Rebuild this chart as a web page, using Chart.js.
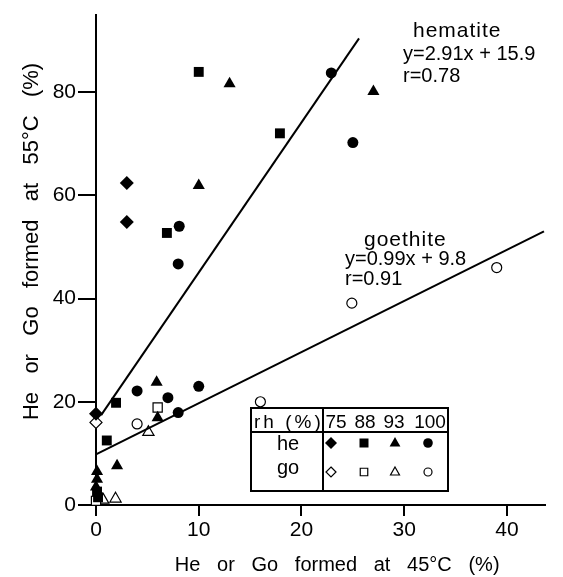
<!DOCTYPE html>
<html>
<head>
<meta charset="utf-8">
<script src="https://cdn.jsdelivr.net/npm/chart.js@4.4.1/dist/chart.umd.min.js"></script>
<style>
    html, body { margin: 0; padding: 0; background: #fff; }
</style>
</head>
<body>
<canvas id="myChart" width="563" height="577"></canvas>
<script>
// Points, [x, y] = [% at 45°C, % at 55°C]
// hematite (filled symbols)
const he75 = [[3, 62.4], [3, 54.8], [0, 17.7]];
const he88 = [[10, 83.9], [17.9, 72], [6.9, 52.7], [1.95, 19.8], [1.05, 12.5], [0.1, 2.6], [0.2, 1.5]];
const he93 = [[13, 81.6], [27, 80.1], [10, 61.9], [5.9, 23.8], [6, 16.9], [2.05, 7.6], [0.1, 6.5], [0.1, 5], [0, 3.5]];
const he100 = [[22.9, 83.7], [25, 70.2], [8.1, 54], [8, 46.7], [4, 22.1], [7, 20.8], [10, 23], [8, 17.9]];

// goethite (open symbols)
const go75 = [[0, 16]];
const go88 = [[6, 18.9], [0, 0.8]];
const go93 = [[5.1, 14.1], [0.7, 1], [1.9, 1.2]];
const go100 = [[39, 46], [24.9, 39.1], [16, 20], [4, 15.7]];

// regression lines, end points as drawn
const hematiteLine = [[0.5, 17.4], [25.6, 90.4]];
const goethiteLine = [[0, 9.8], [43.6, 53]];

// axes
const xTicks = [0, 10, 20, 30, 40];
const yTicks = [0, 20, 40, 60, 80];

// legend table
const rhLevels = ["75", "88", "93", "100"];
const rhStyles = ["rectRot", "rect", "triangle", "circle"];

const FONT = "'Liberation Sans', Arial, Helvetica, sans-serif";

const toXY = function (pairs) {
    return pairs.map(p => ({ x: p[0], y: p[1] }));
};

const pointSet = function (pairs, style, radius, filled) {
    return {
        type: 'scatter',
        data: toXY(pairs),
        pointStyle: style,
        pointRadius: radius,
        pointHoverRadius: radius,
        pointBackgroundColor: filled ? '#000' : '#fff',
        pointBorderColor: '#000',
        pointBorderWidth: filled ? 0 : 1.2,
        clip: false
    };
};

const lineSet = function (pairs) {
    return {
        type: 'line',
        data: toXY(pairs),
        borderColor: '#000',
        borderWidth: 2,
        pointRadius: 0,
        fill: false,
        clip: false
    };
};

/*
    Draw one legend symbol by hand
*/
const drawSymbol = function (ctx, style, x, y, r, filled) {
    ctx.beginPath();
    if (style === 'rectRot') {
        ctx.moveTo(x, y - r); ctx.lineTo(x + r, y); ctx.lineTo(x, y + r); ctx.lineTo(x - r, y);
        ctx.closePath();
    } else if (style === 'rect') {
        ctx.rect(x - r * 0.75, y - r * 0.75, r * 1.5, r * 1.5);
    } else if (style === 'triangle') {
        ctx.moveTo(x, y - r); ctx.lineTo(x + r * 0.9, y + r * 0.6); ctx.lineTo(x - r * 0.9, y + r * 0.6);
        ctx.closePath();
    } else {
        ctx.arc(x, y, r * 0.8, 0, Math.PI * 2);
    }
    if (filled) {
        ctx.fillStyle = '#000';
        ctx.fill();
    } else {
        ctx.fillStyle = '#fff';
        ctx.fill();
        ctx.lineWidth = 1.2;
        ctx.strokeStyle = '#000';
        ctx.stroke();
    }
};

/*
    Equations and the rh table
*/
const notesPlugin = {
    id: 'notes',
    afterDraw(chart) {
        const ctx = chart.ctx;
        const spacing = function (v) { if ('letterSpacing' in ctx) ctx.letterSpacing = v; };
        ctx.save();
        ctx.fillStyle = '#000';
        ctx.textAlign = 'left';
        ctx.textBaseline = 'alphabetic';

        spacing('1px');
        ctx.font = "21px " + FONT;
        ctx.fillText("hematite", 413, 37);
        ctx.fillText("goethite", 364, 246);

        spacing('0px');
        ctx.font = "20px " + FONT;
        ctx.fillText("y=2.91x + 15.9", 403, 60);
        ctx.fillText("r=0.78", 403, 82);
        ctx.fillText("y=0.99x + 9.8", 345, 265);
        ctx.fillText("r=0.91", 345, 285);

        // table
        ctx.fillStyle = '#fff';
        ctx.fillRect(251, 408, 197, 83);
        ctx.strokeStyle = '#000';
        ctx.lineWidth = 2;
        ctx.strokeRect(251, 408, 197, 83);
        ctx.beginPath();
        ctx.moveTo(251, 432); ctx.lineTo(448, 432);
        ctx.moveTo(323, 408); ctx.lineTo(323, 491);
        ctx.stroke();

        ctx.fillStyle = '#000';
        ctx.font = "19px " + FONT;
        spacing('3px');
        ctx.fillText("rh (%)", 254, 428);
        spacing('0px');
        const colX = [336, 365, 394, 430];
        const symX = [331, 364, 395, 428];
        ctx.textAlign = 'center';
        rhLevels.forEach((lbl, i) => ctx.fillText(lbl, colX[i], 428));
        ctx.font = "20px " + FONT;
        ctx.fillText("he", 288, 450);
        ctx.fillText("go", 288, 474);

        rhStyles.forEach((st, i) => {
            drawSymbol(ctx, st, symX[i], 443, 6, true);
            drawSymbol(ctx, st, symX[i], 472, 5, false);
        });
        ctx.restore();
    }
};

document.addEventListener("DOMContentLoaded", function () {
    const ctx = document.getElementById('myChart').getContext('2d');
    const myChart = new Chart(ctx, {
        type: 'scatter',
        data: {
            datasets: [
                lineSet(hematiteLine),
                lineSet(goethiteLine),
                pointSet(he75, 'rectRot', 7, true),
                pointSet(he88, 'rect', 7, true),
                pointSet(he93, 'triangle', 7, true),
                pointSet(he100, 'circle', 5.5, true),
                pointSet(go75, 'rectRot', 6, false),
                pointSet(go88, 'rect', 6.5, false),
                pointSet(go93, 'triangle', 6.5, false),
                pointSet(go100, 'circle', 5, false)
            ]
        },
        options: {
            responsive: false,
            animation: false,
            devicePixelRatio: 1,
            layout: { padding: { top: 10, right: 18, left: 0, bottom: 0 } },
            plugins: {
                legend: { display: false },
                tooltip: { enabled: false }
            },
            scales: {
                x: {
                    type: 'linear',
                    min: 0,
                    max: 43.7,
                    afterFit: scale => { scale.height = 72; },
                    afterBuildTicks: scale => { scale.ticks = xTicks.map(v => ({ value: v })); },
                    border: { display: true, color: '#000', width: 2 },
                    grid: { drawOnChartArea: false, drawTicks: true, tickLength: 11, color: '#000', lineWidth: 2 },
                    ticks: { color: '#000', padding: 2, font: { family: FONT, size: 21 } },
                    title: {
                        display: true,
                        text: "      He   or   Go   formed   at   45°C   (%)",
                        color: '#000',
                        font: { family: FONT, size: 20 },
                        padding: { top: 0, bottom: 0 }
                    }
                },
                y: {
                    type: 'linear',
                    min: 0,
                    max: 95,
                    afterFit: scale => { scale.width = 96; },
                    afterBuildTicks: scale => { scale.ticks = yTicks.map(v => ({ value: v })); },
                    border: { display: true, color: '#000', width: 2 },
                    grid: { drawOnChartArea: false, drawTicks: true, tickLength: 18, color: '#000', lineWidth: 2 },
                    ticks: { color: '#000', padding: 2, font: { family: FONT, size: 21 } },
                    title: {
                        display: true,
                        text: "      He   or   Go   formed   at   55°C   (%)",
                        color: '#000',
                        font: { family: FONT, size: 22 },
                        padding: { top: 19, bottom: 0 }
                    }
                }
            }
        },
        plugins: [notesPlugin]
    });
});
</script>
</body>
</html>
